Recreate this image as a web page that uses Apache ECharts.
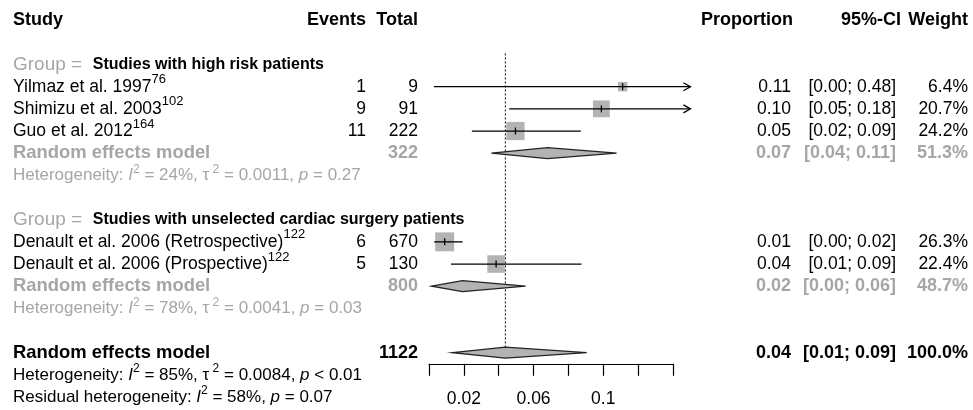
<!DOCTYPE html>
<html><head><meta charset="utf-8">
<script src="https://cdn.jsdelivr.net/npm/echarts@6/dist/echarts.min.js"></script>
<style>html,body{margin:0;padding:0;background:#fff}#c{width:973px;height:410px}</style>
</head><body><div id="c"></div>
<script>
// ---------- data ----------
const studies = ['Yilmaz et al. 1997', 'Shimizu et al. 2003', 'Guo et al. 2012',
  'Denault et al. 2006 (Retrospective)', 'Denault et al. 2006 (Prospective)'];
const refs = ['76', '102', '164', '122', '122'];
const events = [1, 9, 11, 6, 5];
const totals = [9, 91, 222, 670, 130];
const estimates = [0.1111, 0.0989, 0.0496, 0.0090, 0.0385];
const lowers = [0.0028, 0.0460, 0.0246, 0.0030, 0.0126];
const uppers = [0.4825, 0.1802, 0.0871, 0.0193, 0.0875];
const weights = [6.4, 20.7, 24.2, 26.3, 22.4];
const groups = ['Studies with high risk patients', 'Studies with unselected cardiac surgery patients'];
const pooledLabel = 'Random effects model';
const pooledTotals = [322, 800, 1122];
const pooledEst = [0.0680, 0.0192, 0.0438];
const pooledLower = [0.0358, 0.0015, 0.0135];
const pooledUpper = [0.1076, 0.0554, 0.0905];
const pooledWeights = [51.3, 48.7, 100.0];
const hetI2 = ['24%', '78%', '85%'];
const hetTau2 = ['0.0011', '0.0041', '0.0084'];
const hetP = ['= 0.27', '= 0.03', '< 0.01'];
const residI2 = '58%';
const residP = '= 0.07';
const headers = ['Study', 'Events', 'Total', 'Proportion', '95%-CI', 'Weight'];
const tickLabels = ['0.02', '0.06', '0.1'];
const axisRange = [0, 0.14];
const axisStep = 0.02;
const plotLimit = [0, 0.15];

// ---------- layout ----------
const L = {
  rowHeader: 0, rowsGroup: [2, 9], rowsStudy: [3, 4, 5, 10, 11], rowsPooled: [6, 12, 15],
  rowsHet: [7, 13, 16], rowResid: 17, refLineRows: [1.5, 14.75],
  xStudy: 13, xEvents: 366, xTotal: 418, xPropHead: 793, xCIHead: 901, xWeight: 968,
  xProp: 791, xCI: 896
};
const FONT = '"Liberation Sans", Arial, sans-serif';
const BLACK = '#000', GRAY = '#a6a6a6', BOXFILL = '#b3b3b3', DIAFILL = '#b3b3b3';
const SZ = 17.5, SZB = 18, SZBP = 18.4, SZH = 17, SZSUB = 16, SZSUP = 13, SZSUPH = 12, SZGRP = 19;

const mctx = document.createElement('canvas').getContext('2d');
function tw(t, size, weight, italic) {
  mctx.font = (italic ? 'italic ' : '') + (weight || 'normal') + ' ' + size + 'px "Liberation Sans"';
  return mctx.measureText(t).width;
}
function run(x, y, parts, align, baseColor) {
  let total = 0;
  parts.forEach(p => { p.w = tw(p.t, p.size, p.weight, p.italic); total += p.w; });
  let cx = align === 'right' ? x - total : x;
  return parts.map(p => {
    const el = { type: 'text', silent: true, style: {
      text: p.t, x: cx, y: y + (p.sup ? (p.raise || -7) : 0), fill: p.color || baseColor,
      fontSize: p.size, fontWeight: p.weight || 'normal', fontStyle: p.italic ? 'italic' : 'normal',
      fontFamily: FONT, align: 'left', verticalAlign: 'middle' } };
    cx += p.w;
    return el;
  });
}
const f2 = v => v.toFixed(2);
const ci = (l, u) => '[' + f2(l) + '; ' + f2(u) + ']';
const wt = w => w.toFixed(1) + '%';

function hetParts(i2, tau2, p, resid) {
  const parts = [{ t: resid ? 'Residual heterogeneity: ' : 'Heterogeneity: ', size: SZH },
    { t: 'I', size: SZH, italic: true }, { t: '2', size: SZSUPH, sup: true, raise: -6 },
    { t: ' = ' + i2 + ', ', size: SZH }];
  if (!resid) {
    parts.push({ t: 'τ', size: SZH }, { t: ' 2', size: SZSUPH, sup: true, raise: -6 },
      { t: ' = ' + tau2 + ', ', size: SZH });
  }
  parts.push({ t: 'p', size: SZH, italic: true }, { t: ' ' + p, size: SZH });
  return parts;
}

function renderTable(params, api) {
  const Y = r => api.coord([0, r])[1];
  let ch = [];
  const y0 = Y(L.rowHeader);
  const hx = [L.xStudy, L.xEvents, L.xTotal, L.xPropHead, L.xCIHead, L.xWeight];
  headers.forEach((h, i) => {
    ch = ch.concat(run(hx[i], y0, [{ t: h, size: SZB, weight: 'bold' }], i === 0 ? 'left' : 'right', BLACK));
  });
  groups.forEach((g, i) => {
    ch = ch.concat(run(L.xStudy, Y(L.rowsGroup[i]), [{ t: 'Group =  ', size: SZGRP, color: GRAY },
      { t: g, size: SZSUB, weight: 'bold', color: BLACK }], 'left', BLACK));
  });
  studies.forEach((s, i) => {
    const y = Y(L.rowsStudy[i]);
    ch = ch.concat(run(L.xStudy, y, [{ t: s, size: SZ }, { t: refs[i], size: SZSUP, sup: true, raise: -7 }], 'left', BLACK));
    ch = ch.concat(run(L.xEvents, y, [{ t: String(events[i]), size: SZ }], 'right', BLACK));
    ch = ch.concat(run(L.xTotal, y, [{ t: String(totals[i]), size: SZ }], 'right', BLACK));
    ch = ch.concat(run(L.xProp, y, [{ t: f2(estimates[i]), size: SZ }], 'right', BLACK));
    ch = ch.concat(run(L.xCI, y, [{ t: ci(lowers[i], uppers[i]), size: SZ }], 'right', BLACK));
    ch = ch.concat(run(L.xWeight, y, [{ t: wt(weights[i]), size: SZ }], 'right', BLACK));
  });
  pooledTotals.forEach((tot, i) => {
    const y = Y(L.rowsPooled[i]);
    const col = i < 2 ? GRAY : BLACK;
    const b = { size: SZB, weight: 'bold' };
    ch = ch.concat(run(L.xStudy, y, [{ t: pooledLabel, size: SZBP, weight: 'bold' }], 'left', col));
    ch = ch.concat(run(L.xTotal, y, [Object.assign({ t: String(tot) }, b)], 'right', col));
    ch = ch.concat(run(L.xProp, y, [Object.assign({ t: f2(pooledEst[i]) }, b)], 'right', col));
    ch = ch.concat(run(L.xCI, y, [Object.assign({ t: ci(pooledLower[i], pooledUpper[i]) }, b)], 'right', col));
    ch = ch.concat(run(L.xWeight, y, [Object.assign({ t: wt(pooledWeights[i]) }, b)], 'right', col));
    ch = ch.concat(run(L.xStudy, Y(L.rowsHet[i]), hetParts(hetI2[i], hetTau2[i], hetP[i], false), 'left', col));
  });
  ch = ch.concat(run(L.xStudy, Y(L.rowResid), hetParts(residI2, '', residP, true), 'left', BLACK));
  return { type: 'group', children: ch };
}

function renderStudy(params, api) {
  const est = api.value(0), lo = api.value(1), hi = api.value(2), row = api.value(3), w = api.value(4);
  const y = api.coord([0, row])[1];
  const xe = api.coord([est, row])[0];
  const xl = api.coord([Math.max(lo, plotLimit[0]), row])[0];
  const xu = api.coord([Math.min(hi, plotLimit[1]), row])[0];
  const s = 3.7 * Math.sqrt(w);
  const ch = [
    { type: 'rect', shape: { x: xe - s / 2, y: y - s / 2, width: s, height: s }, style: { fill: BOXFILL } },
    { type: 'line', shape: { x1: xl, y1: y, x2: xu, y2: y }, style: { stroke: BLACK, lineWidth: 1.3 } },
    { type: 'line', shape: { x1: xe, y1: y - 3.5, x2: xe, y2: y + 3.5 }, style: { stroke: BLACK, lineWidth: 1.3 } }
  ];
  if (hi > plotLimit[1]) {
    ch.push({ type: 'polyline', shape: { points: [[xu - 7, y - 4], [xu, y], [xu - 7, y + 4]] },
      style: { stroke: BLACK, fill: null, lineWidth: 1.3 } });
  }
  return { type: 'group', children: ch };
}

function renderDiamond(params, api) {
  const est = api.value(0), lo = api.value(1), hi = api.value(2), row = api.value(3);
  const y = api.coord([0, row])[1];
  const xe = api.coord([est, row])[0], xl = api.coord([lo, row])[0], xu = api.coord([hi, row])[0];
  const h = 5.5;
  return { type: 'polygon', shape: { points: [[xl, y], [xe, y - h], [xu, y], [xe, y + h]] },
    style: { fill: DIAFILL, stroke: '#222', lineWidth: 1.2 } };
}

function renderRef(params, api) {
  const x = api.value(0);
  const p1 = api.coord([x, api.value(1)]), p2 = api.coord([x, api.value(2)]);
  return { type: 'line', shape: { x1: p1[0], y1: p1[1], x2: p2[0], y2: p2[1] },
    style: { stroke: BLACK, lineWidth: 1, lineDash: [2, 2] } };
}

const chart = echarts.init(document.getElementById('c'), null, { renderer: 'canvas' });
chart.setOption({
  animation: false,
  backgroundColor: '#fff',
  grid: { left: 429, right: 300, top: 9.1, bottom: 46.2, containLabel: false },
  xAxis: {
    type: 'value', position: 'bottom', min: axisRange[0], max: axisRange[1], interval: axisStep,
    splitLine: { show: false },
    axisLine: { show: true, onZero: false, lineStyle: { color: BLACK, width: 1.2 } },
    axisTick: { show: true, length: 12, inside: false, lineStyle: { color: BLACK, width: 1.2 } },
    axisLabel: { margin: 26, color: BLACK, fontSize: SZ, fontFamily: FONT,
      formatter: v => { const s = String(+(+v).toFixed(2)); return tickLabels.indexOf(s) >= 0 ? s : ''; } }
  },
  yAxis: { type: 'value', inverse: true, min: -0.5, max: 15.5, show: false },
  series: [
    { type: 'custom', renderItem: renderRef, clip: false, silent: true,
      data: [[pooledEst[2], L.refLineRows[0], L.refLineRows[1]]] },
    { type: 'custom', renderItem: renderStudy, clip: false, silent: true,
      data: estimates.map((e, i) => [e, lowers[i], uppers[i], L.rowsStudy[i], weights[i]]) },
    { type: 'custom', renderItem: renderDiamond, clip: false, silent: true,
      data: pooledEst.map((e, i) => [e, pooledLower[i], pooledUpper[i], L.rowsPooled[i]]) },
    { type: 'custom', renderItem: renderTable, clip: false, silent: true, data: [[0, 0]] }
  ]
});
</script>
</body></html>
